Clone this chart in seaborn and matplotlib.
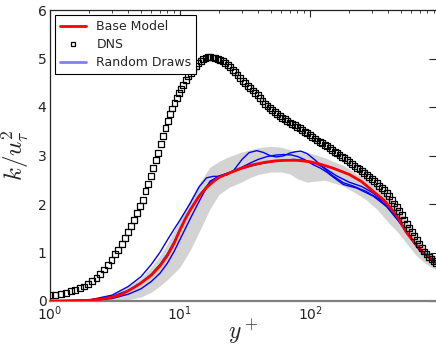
import numpy as np
import pandas as pd
import matplotlib
matplotlib.use("Agg")
import matplotlib.pyplot as plt
import seaborn as sns
from matplotlib.lines import Line2D

# ---------------- data ----------------
dns_y = [1.00, 1.10, 1.21, 1.32, 1.44, 1.56, 1.69, 1.83, 1.97, 2.12, 2.28, 2.44, 2.61, 2.79, 2.97,
         3.16, 3.36, 3.56, 3.77, 3.99, 4.21, 4.44, 4.68, 4.92, 5.17, 5.43, 5.69, 5.96, 6.24, 6.53,
         6.82, 7.12, 7.43, 7.74, 8.06, 8.39, 8.73, 9.07, 9.42, 9.78, 10.15,
         10.6, 11.1, 11.6, 12.1, 12.6, 13.2, 13.8, 14.4, 15.0, 15.7, 16.4, 17.1, 17.9, 18.7, 19.5,
         20.4, 21.3, 22.3, 23.3, 24.3, 25.4, 26.5, 27.7, 29.0, 30.3,
         31.7, 33.1, 34.6, 36.2, 37.8, 39.5, 41.3, 43.1, 45.1, 47.1, 49.2, 51.4, 53.7, 56.1, 58.7,
         61.3, 64.1, 67.0, 70.0, 73.1, 76.4, 79.9, 83.5, 87.2, 91.1, 95.2, 99.5,
         104, 108.7, 113.6, 118.7, 124, 129.6, 135.4, 141.5, 147.9, 154.5, 161.5, 168.7, 176.3,
         184.3, 192.5, 201.2, 210.3, 219.7, 229.6, 240, 250.8, 262, 273.8, 286.1, 299, 312.5,
         326.5, 341.2, 356.6, 372.6, 389.4, 406.9, 425.2, 444.4, 464.4, 485.2, 507, 530, 553.8,
         578.7, 604.7, 632, 660, 690, 721, 753, 787, 823, 860, 898, 934]
dns_k = [0.12, 0.13, 0.15, 0.17, 0.20, 0.23, 0.26, 0.30, 0.35, 0.41, 0.48, 0.56, 0.65, 0.74, 0.85,
         0.96, 1.06, 1.17, 1.29, 1.42, 1.54, 1.67, 1.81, 1.95, 2.09, 2.26, 2.42, 2.58, 2.75, 2.91,
         3.06, 3.23, 3.40, 3.56, 3.72, 3.85, 3.97, 4.08, 4.19, 4.29, 4.37,
         4.46, 4.55, 4.64, 4.71, 4.78, 4.85, 4.91, 4.95, 4.99, 5.01, 5.03, 5.03, 5.02, 5.01, 4.99,
         4.97, 4.94, 4.90, 4.86, 4.82, 4.77, 4.72, 4.66, 4.60, 4.54,
         4.49, 4.44, 4.39, 4.34, 4.29, 4.24, 4.18, 4.13, 4.07, 4.02, 3.98, 3.94, 3.90, 3.86, 3.82,
         3.78, 3.75, 3.71, 3.68, 3.65, 3.62, 3.59, 3.56, 3.53, 3.49, 3.46, 3.42,
         3.39, 3.35, 3.31, 3.28, 3.25, 3.22, 3.19, 3.15, 3.12, 3.08, 3.05, 3.01, 2.97,
         2.94, 2.90, 2.87, 2.83, 2.79, 2.75, 2.72, 2.68, 2.64, 2.60, 2.56, 2.52, 2.48,
         2.43, 2.38, 2.33, 2.28, 2.22, 2.16, 2.09, 2.01, 1.94, 1.86, 1.77, 1.68, 1.59,
         1.51, 1.43, 1.34, 1.25, 1.17, 1.09, 1.02, 0.96, 0.91, 0.86, 0.82, 0.79]

base_y = [1, 1.5, 2, 2.5, 3, 3.5, 4, 4.5, 5, 6, 7, 8, 9, 10, 11, 12, 14, 16, 18, 20, 24, 30, 35,
          45, 55, 65, 80, 100, 120, 150, 200, 250, 300, 370, 460, 550, 650, 750, 850, 934]
base_k = [0.0, 0.005, 0.015, 0.04, 0.08, 0.13, 0.21, 0.29, 0.37, 0.53, 0.72, 0.94, 1.19, 1.47,
          1.70, 1.88, 2.16, 2.34, 2.46, 2.55, 2.64, 2.74, 2.80, 2.86, 2.89, 2.90, 2.90, 2.87,
          2.82, 2.74, 2.61, 2.46, 2.28, 2.08, 1.78, 1.42, 1.17, 0.99, 0.87, 0.80]

band_y = [1, 2, 3, 4, 5, 6, 7, 8, 10, 12, 14, 17, 20, 24, 29, 35, 40, 50, 60, 70, 80, 95, 110,
          130, 150, 180, 220, 270, 330, 400, 480, 560, 650, 750, 850, 934]
band_hi = [0.0, 0.04, 0.15, 0.30, 0.47, 0.70, 0.93, 1.18, 1.68, 2.10, 2.42, 2.76, 2.88, 2.98,
           3.06, 3.12, 3.16, 3.19, 3.17, 3.12, 3.08, 3.06, 3.02, 2.95, 2.88, 2.80, 2.65, 2.50,
           2.35, 2.15, 1.92, 1.62, 1.35, 1.12, 0.98, 0.92]
band_lo = [0.0, 0.0, 0.01, 0.03, 0.08, 0.18, 0.31, 0.44, 0.70, 1.05, 1.42, 1.90, 2.20, 2.35,
           2.44, 2.55, 2.61, 2.66, 2.66, 2.62, 2.52, 2.45, 2.47, 2.49, 2.44, 2.37, 2.24, 2.09,
           1.88, 1.62, 1.40, 1.17, 0.95, 0.80, 0.70, 0.65]

drawA_y = [1, 2, 3, 4, 5, 6, 7, 8, 9, 10, 12, 14, 16, 18, 20, 23, 26, 30, 34, 39, 44, 49, 55,
           62, 70, 78, 85, 95, 110, 130, 150, 180, 215, 270, 340, 430, 550, 700, 850, 934]
drawA_k = [0.0, 0.02, 0.12, 0.30, 0.50, 0.75, 1.00, 1.26, 1.48, 1.67, 2.02, 2.35, 2.54, 2.57,
           2.57, 2.60, 2.70, 2.92, 3.06, 3.10, 3.06, 3.00, 2.97, 2.99, 3.05, 3.08, 3.09, 3.04,
           2.90, 2.72, 2.58, 2.44, 2.37, 2.26, 2.10, 1.84, 1.42, 1.03, 0.87, 0.80]
drawB_y = [1, 2, 3, 4, 5, 6, 7, 8, 9, 10, 12, 14, 17, 20, 23, 26, 30, 35, 40, 47, 55, 63, 72,
           80, 90, 106, 120, 134, 155, 181, 228, 307, 387, 492, 600, 700, 800, 934]
drawB_k = [0.0, 0.01, 0.05, 0.14, 0.25, 0.40, 0.57, 0.78, 1.02, 1.27, 1.70, 2.05, 2.47, 2.57,
           2.63, 2.69, 2.76, 2.85, 2.92, 2.98, 3.01, 3.02, 3.01, 2.98, 2.92, 2.81, 2.74, 2.66,
           2.53, 2.40, 2.33, 2.16, 1.95, 1.61, 1.28, 1.05, 0.92, 0.78]
drawC_y = [1, 2, 3, 4, 5, 6, 7, 8, 9, 10, 12, 14, 17, 20, 25, 30, 40, 50, 60, 75, 90, 110, 130,
           160, 200, 250, 300, 370, 460, 550, 650, 750, 850, 934]
drawC_k = [0.0, 0.02, 0.09, 0.22, 0.38, 0.55, 0.75, 0.97, 1.22, 1.48, 1.88, 2.17, 2.45, 2.58,
           2.66, 2.73, 2.82, 2.87, 2.90, 2.92, 2.90, 2.84, 2.74, 2.58, 2.45, 2.36, 2.24, 2.05,
           1.76, 1.42, 1.15, 0.98, 0.86, 0.77]

legend_labels = ["Base Model", "DNS", "Random Draws"]
y_ticks = [0, 1, 2, 3, 4, 5, 6]

# ---------------- plot ----------------
sns.set_style("white")
plt.rcParams["font.family"] = ["DejaVu Sans"]
plt.rcParams["mathtext.fontset"] = "dejavusans"

fig = plt.figure(figsize=(4.36, 3.45), dpi=100)
ax = fig.add_axes([50 / 436, 1 - 301 / 345, 386 / 436, 291 / 345])

ax.fill_between(band_y, band_lo, band_hi, color="#d3d3d3", linewidth=0, zorder=1)

for yy, kk in [(drawA_y, drawA_k), (drawB_y, drawB_k), (drawC_y, drawC_k)]:
    sns.lineplot(x=yy, y=kk, ax=ax, color="blue", linewidth=1.0, estimator=None,
                 sort=False, zorder=3)
sns.lineplot(x=base_y, y=base_k, ax=ax, color="red", linewidth=2.0, estimator=None,
             sort=False, zorder=4)
sns.scatterplot(x=dns_y, y=dns_k, ax=ax, marker="s", s=18, facecolor="none",
                edgecolor="black", linewidth=0.9, zorder=5)

ax.set_xscale("log")
ax.set_xlim(1, 931)
ax.set_ylim(0, 6)
ax.set_yticks(y_ticks)

ax.tick_params(which="both", direction="in", top=True, right=True, labelsize=10,
               colors="#222222", pad=2.5)
ax.tick_params(which="major", length=5, width=0.8)
ax.tick_params(which="minor", length=2.5, width=0.6)
for side in ["left", "top"]:
    ax.spines[side].set_color("#222222")
    ax.spines[side].set_linewidth(0.9)
ax.spines["bottom"].set_color("#808080")
ax.spines["bottom"].set_linewidth(1.6)
ax.spines["right"].set_visible(False)

ax.set_xlabel(r"$y^+$", fontsize=17, labelpad=-4, math_fontfamily="cm")
ax.set_ylabel(r"$k/u_\tau^2$", fontsize=18, labelpad=4, math_fontfamily="cm")

handles = [Line2D([], [], color="red", linewidth=2),
           Line2D([], [], linestyle="none", marker="s", markersize=3.5,
                  markerfacecolor="none", markeredgecolor="black", markeredgewidth=0.9),
           Line2D([], [], color="blue", linewidth=2, alpha=0.5)]
leg = ax.legend(handles, legend_labels, loc="upper left", fontsize=9, frameon=True,
                fancybox=False, framealpha=1, borderaxespad=0.4, handlelength=2.1,
                handletextpad=0.8, borderpad=0.4, labelspacing=0.4)
leg.get_frame().set_edgecolor("black")
leg.get_frame().set_linewidth(0.8)

fig.savefig("out.png", dpi=100)
